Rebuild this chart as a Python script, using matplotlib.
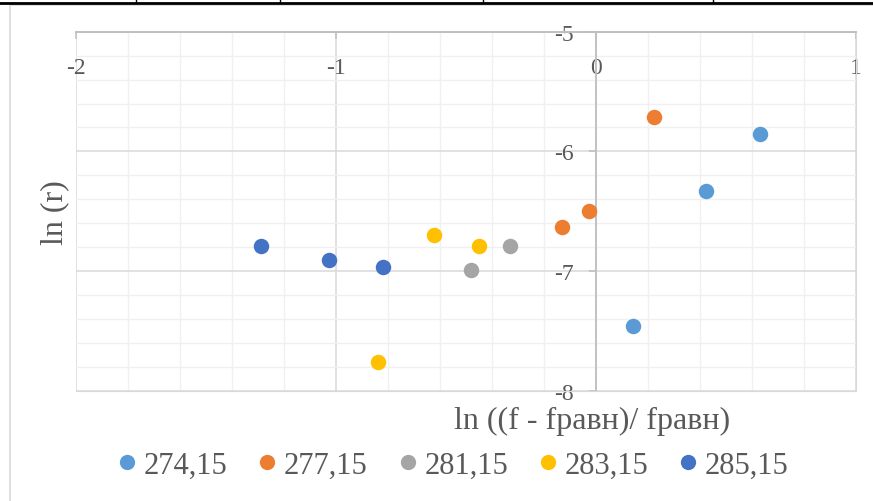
import matplotlib
matplotlib.use("Agg")
import matplotlib.pyplot as plt
from matplotlib.lines import Line2D
from matplotlib.patches import Rectangle

plt.rcParams['font.family'] = ['Liberation Serif', 'DejaVu Serif']
plt.rcParams['axes.unicode_minus'] = False

# series: temperature label -> (ln((f - fравн)/fравн), ln(r))
labels = ['274,15', '277,15', '281,15', '283,15', '285,15']
colors = ['#5B9BD5', '#ED7D31', '#A5A5A5', '#FFC000', '#4472C4']

x_274 = [0.141, 0.424, 0.631]
y_274 = [-7.461, -6.328, -5.855]
x_277 = [-0.131, -0.026, 0.224]
y_277 = [-6.629, -6.500, -5.715]
x_281 = [-0.480, -0.331]
y_281 = [-6.993, -6.790]
x_283 = [-0.837, -0.623, -0.451]
y_283 = [-7.762, -6.698, -6.790]
x_285 = [-1.290, -1.026, -0.819]
y_285 = [-6.790, -6.907, -6.963]

xs = [x_274, x_277, x_281, x_283, x_285]
ys = [y_274, y_277, y_281, y_283, y_285]

x_ticks = [-2, -1, 0, 1]
x_ticklabels = ['-2', '-1', '0', '1']
y_ticks = [-8, -7, -6, -5]
y_ticklabels = ['-8', '-7', '-6', '-5']

W, H = 873, 502
fig = plt.figure(figsize=(W / 100, H / 100), dpi=100)
ax = fig.add_axes([76 / W, 1 - 391.7 / H, 780 / W, 359 / H])

for xv, yv, lab, col in zip(xs, ys, labels, colors):
    ax.scatter(xv, yv, s=124, color=col, label=lab, zorder=3, linewidths=0)

ax.set_xlim(-2, 1)
ax.set_ylim(-8, -5)

# grid: major every 1, minor every 0.2
ax.set_xticks(x_ticks)
ax.set_xticklabels(x_ticklabels)
ax.set_yticks(y_ticks)
ax.set_yticklabels(y_ticklabels)
ax.set_xticks([i * 0.2 - 2 for i in range(16)], minor=True)
ax.set_yticks([i * 0.2 - 8 for i in range(16)], minor=True)
ax.grid(which='major', color='#D9D9D9', linewidth=1.1, zorder=0)
ax.grid(which='minor', color='#F0F0F0', linewidth=1.0, zorder=0)
ax.set_axisbelow(True)

# horizontal axis sits on top, vertical axis crosses at x = 0
ax.xaxis.tick_top()
ax.spines['left'].set_position(('data', 0))
ax.spines['top'].set_color('#BFBFBF')
ax.spines['top'].set_linewidth(1.4)
ax.spines['left'].set_color('#BFBFBF')
ax.spines['left'].set_linewidth(1.3)
ax.spines['right'].set_color('#D9D9D9')
ax.spines['bottom'].set_color('#D9D9D9')

ax.tick_params(axis='x', which='major', direction='in', length=5, width=1.1,
               color='#BFBFBF', labelsize=17, labelcolor='#595959', pad=-33)
ax.tick_params(axis='y', which='major', direction='out', length=5, width=1.1,
               color='#BFBFBF', labelsize=17, labelcolor='#595959', pad=11)
ax.tick_params(which='minor', length=0)

ax.set_xlabel('ln ((f - fравн)/ fравн)', fontsize=23, color='#595959', va='center')
ax.xaxis.set_label_coords(0.662, -0.082)
ax.set_ylabel('ln (r)', fontsize=23, color='#595959', va='center')
ax.yaxis.set_label_coords(-0.027, 0.5)

handles = [Line2D([], [], linestyle='none', marker='o', markersize=11,
                  markerfacecolor=c, markeredgewidth=0) for c in colors]
fig.legend(handles, labels, loc='center', bbox_to_anchor=(0.52, 0.072), ncol=5,
           frameon=False, fontsize=22, labelcolor='#595959', handlelength=0.5,
           handletextpad=0.3, columnspacing=1.05, borderpad=0)

# chart border and the table rule above it
fig.add_artist(Rectangle((10 / W, -0.1), 1.2, 1.1 - 6 / H, transform=fig.transFigure,
                         fill=False, edgecolor='#D9D9D9', linewidth=1.2))
fig.add_artist(Line2D([0, 1], [1 - 3.5 / H, 1 - 3.5 / H], transform=fig.transFigure,
                      color='black', linewidth=2.0))
for px in [136, 280, 483, 713]:
    fig.add_artist(Line2D([px / W, px / W], [1, 1 - 3 / H], transform=fig.transFigure,
                          color='black', linewidth=1.0))

fig.savefig('out.png', dpi=100)
